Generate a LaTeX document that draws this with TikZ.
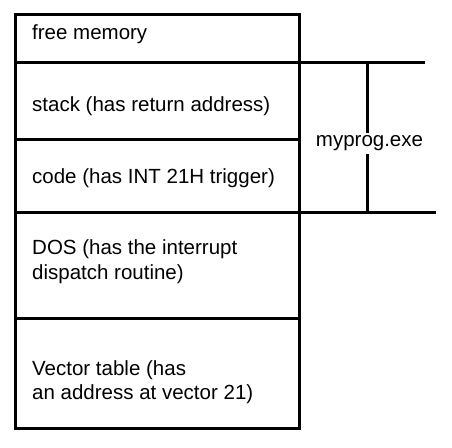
\documentclass[tikz,border=0pt]{standalone}
\usepackage{fontspec}
\setmainfont{Liberation Sans}
\begin{document}
\begin{tikzpicture}[x=1pt,y=-1pt,line width=3pt,
  region/.style={draw,rectangle,inner sep=0pt,outer sep=0pt,minimum width=283.5pt},
  lbl/.style={anchor=base west,inner sep=0pt,align=left,font=\fontsize{20.5}{24.5}\selectfont},
  exelbl/.style={anchor=base,inner xsep=0pt,inner ysep=3pt,outer sep=0pt,font=\fontsize{20.5}{24.5}\selectfont}]
\useasboundingbox (0,0) rectangle (452,447);
% memory regions
\node[region,minimum height=47.5pt]  (free)  at (157.25,38.25) {};
\node[region,minimum height=77.5pt]  (stack) at (157.25,100.75) {};
\node[region,minimum height=72.5pt]  (code)  at (157.25,175.75) {};
\node[region,minimum height=106pt]   (dos)   at (157.25,265) {};
\node[region,minimum height=110pt]   (vec)   at (157.25,373) {};
% texts
\node[lbl] (tfree)  at (30.7,39.3)  {free memory};
\node[lbl] (tstack) at (30.7,111)   {stack (has return address)};
\node[lbl] (tcode)  at (30.7,183)   {code (has INT 21H trigger)};
\node[lbl] (tdos1)  at (30.7,254.7) {DOS (has the interrupt};
\node[lbl] (tdos2)  at (30.7,279.3) {dispatch routine)};
\node[lbl] (tvec1)  at (30.7,375)   {Vector table (has};
\node[lbl] (tvec2)  at (30.7,399.3) {an address at vector 21)};
% myprog.exe bracket
\coordinate (topend) at (425,62);
\coordinate (botend) at (436,212);
\coordinate (vt) at (367,62);
\coordinate (vb) at (367,212);
\node[exelbl] (exe) at (369.5,146.7) {myprog.exe};
\draw (stack.north east) -- (topend);
\draw (code.south east) -- (botend);
\draw (vt) -- (vt |- exe.north);
\draw (vb) -- (vb |- exe.south);
\end{tikzpicture}
\end{document}
